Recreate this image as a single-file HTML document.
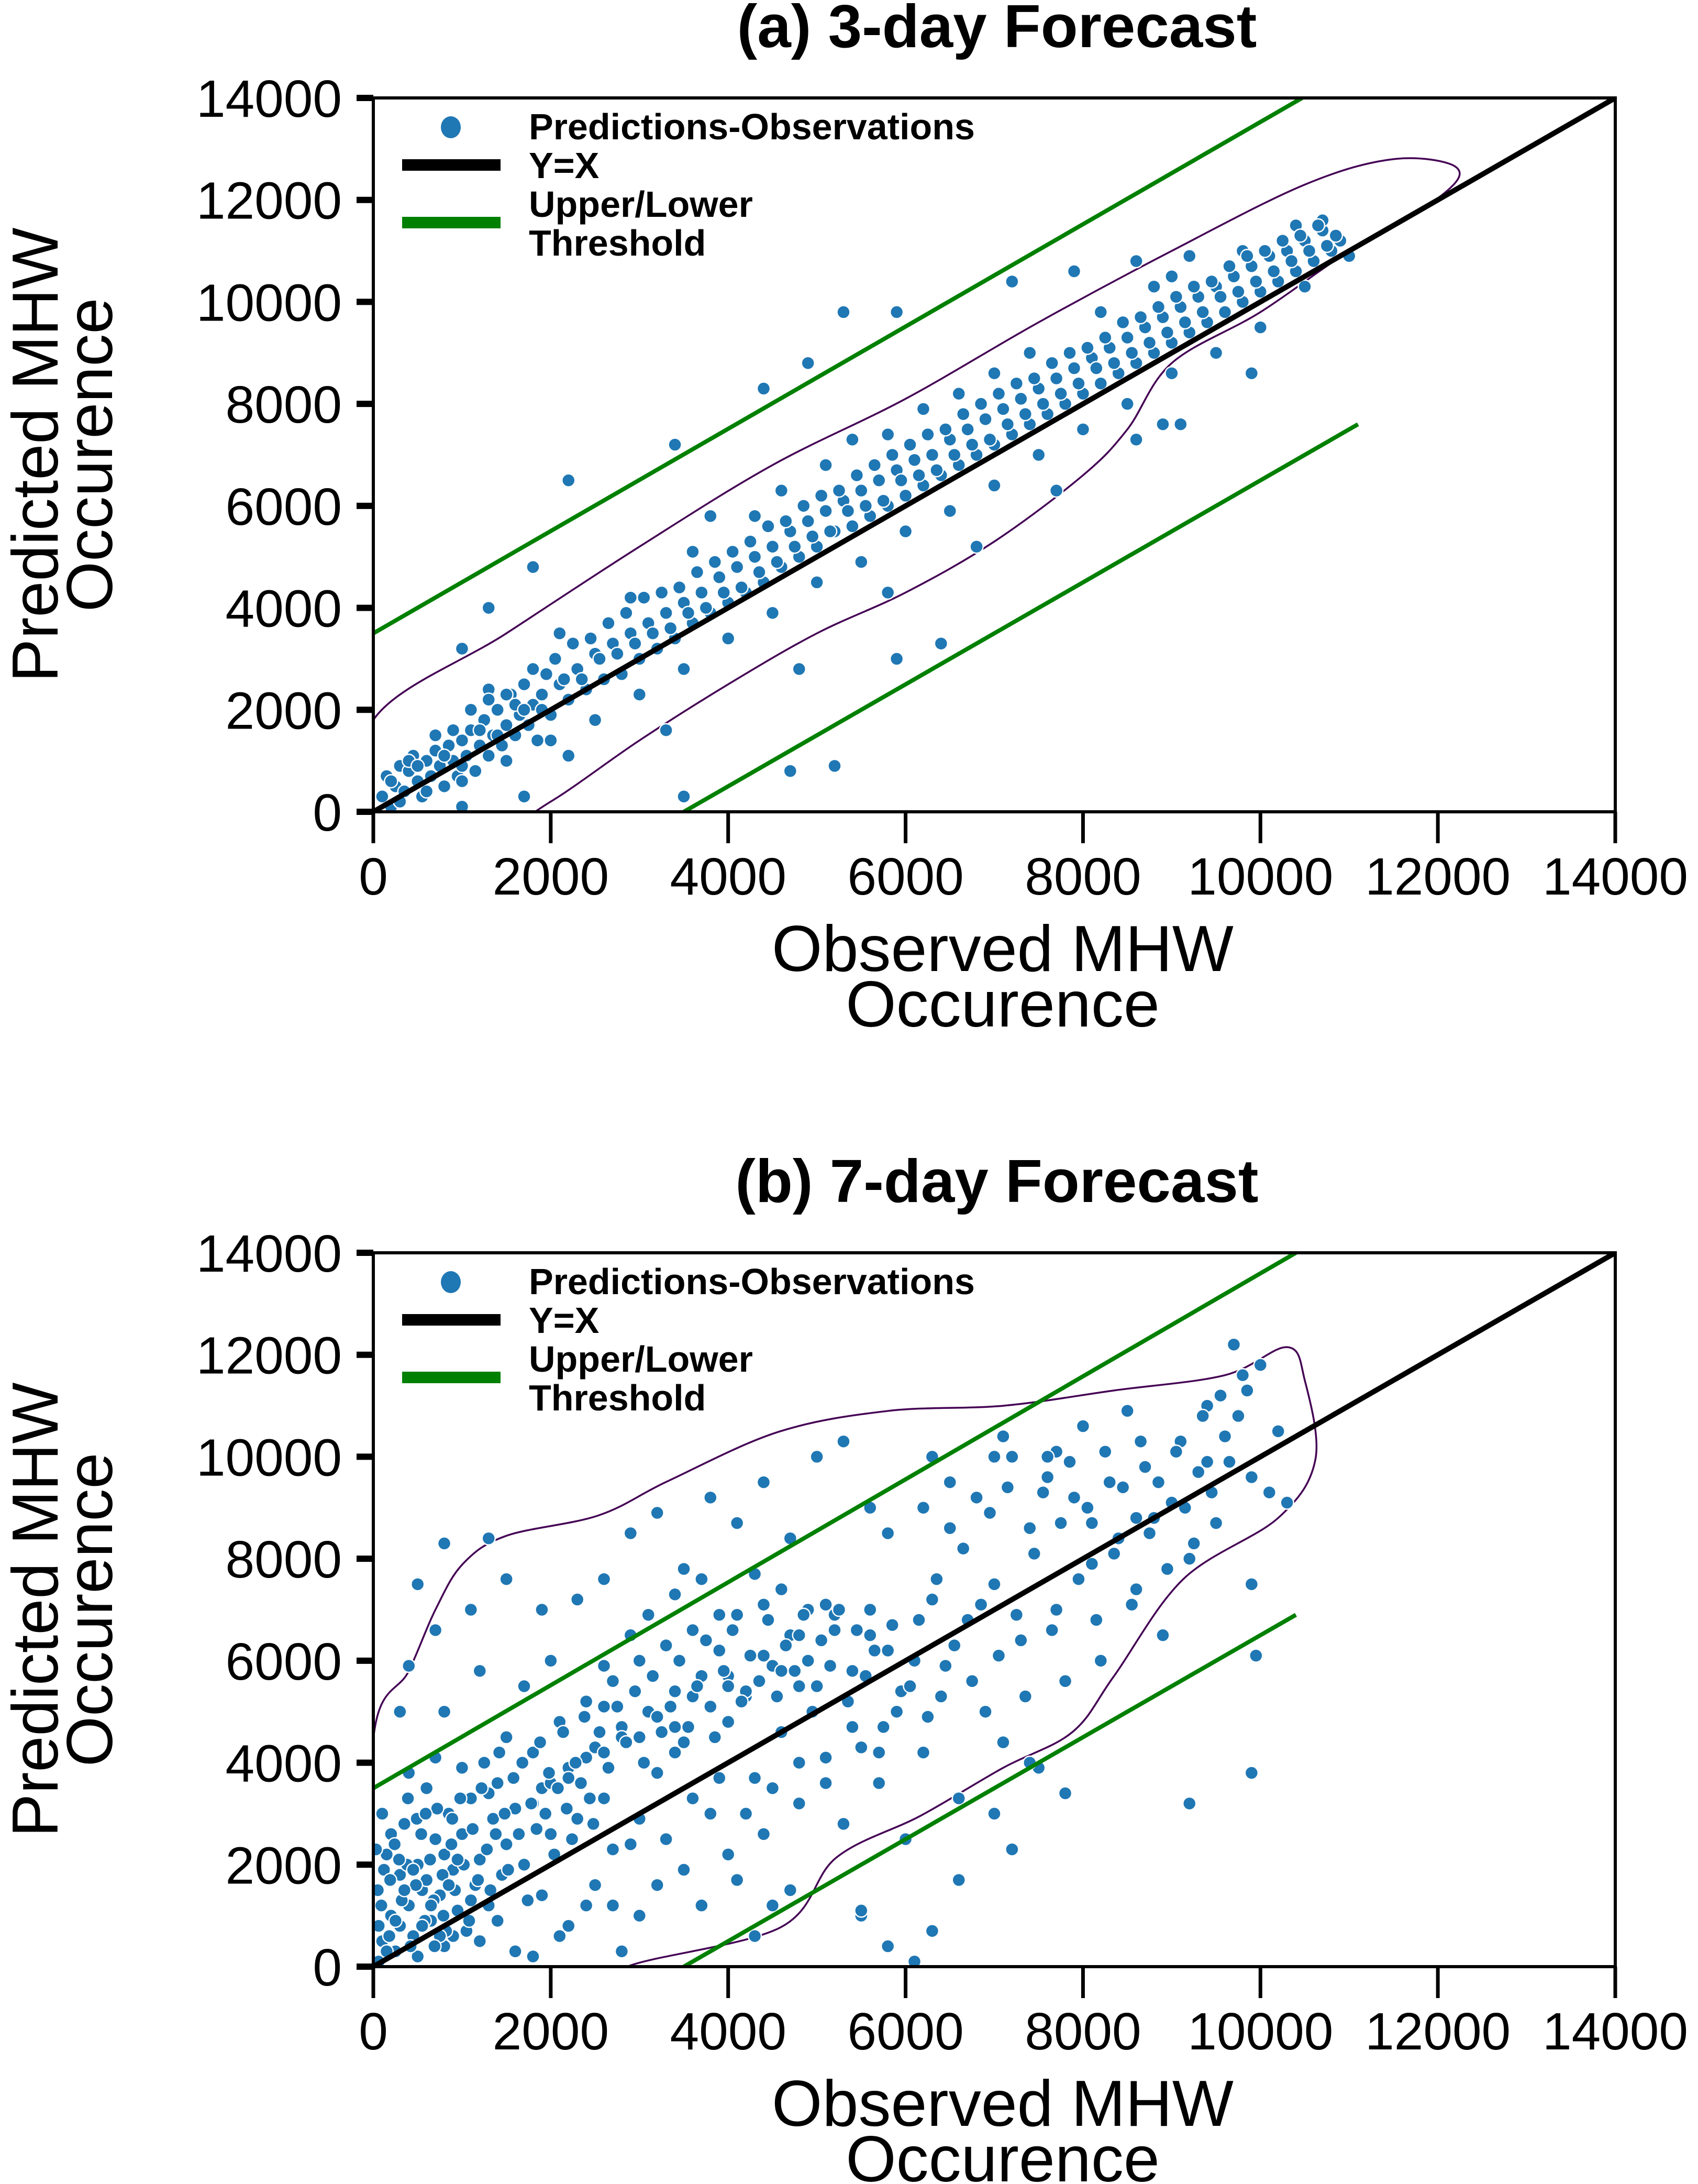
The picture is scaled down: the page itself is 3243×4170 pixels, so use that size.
<!DOCTYPE html>
<html><head><meta charset="utf-8">
<style>
html,body{margin:0;padding:0;background:#fff;}
svg{display:block;font-family:"Liberation Sans",Arial,sans-serif;}
</style></head>
<body>
<svg id="chart" width="3243" height="4170" viewBox="0 0 3243 4170" xmlns="http://www.w3.org/2000/svg"></svg>
<script>
const xTicks = [0,2000,4000,6000,8000,10000,12000,14000];
const yTicks = [0,2000,4000,6000,8000,10000,12000,14000];

const obsA = [100,150,200,250,300,350,400,450,500,550,600,650,700,750,800,850,900,950,1000,1050,1100,1150,1200,1250,1300,1350,1400,1450,1500,1550,1600,1650,1700,1750,1800,1850,1900,1950,2000,2100,2200,2300,2400,2500,2600,2700,2800,2900,3000,3100,3200,3300,3400,3500,3600,3700,3800,3900,4000,4100,4200,4300,4400,4500,4600,4700,4800,4900,5000,5100,5200,5300,5400,5500,5600,5700,5800,5900,6000,6100,6200,6300,6400,6500,6600,6700,6800,6900,7000,7100,7200,7300,7400,7500,7600,7700,7800,7900,8000,8100,8200,8300,8400,8500,8600,8700,8800,8900,9000,9100,9200,9300,9400,9500,9600,9700,9800,9900,10000,10100,10200,10300,10400,10500,10600,10700,10800,10900,11000,
1000,1500,2000,2500,3000,3500,4000,4500,5000,5500,6000,6500,7000,7500,8000,8500,9000,9500,10000,10500,2200,3300,4800,5800,6800,7700,8900,
1300,2100,2900,3600,4300,5100,5800,6600,7400,8200,9000,9800,10400,3800,4600,5400,6200,7000,8800,10700,
2200,3400,4400,5300,5900,4900,7200,1800,1000,1300,3500,4700,5200,5900,6400,7900,8600,9200,9100,8600,9900,1000,1700];
const predA = [300,700,100,500,900,400,800,1100,600,300,1000,700,1200,900,500,1300,1000,700,1400,1100,1600,800,1300,1800,1100,1500,2000,1300,1700,2300,1500,1900,2500,1700,2100,1400,2300,2700,1900,2500,2200,2800,2400,3100,2600,3300,2700,3500,3000,3700,3200,3900,3400,4100,3700,4300,3900,4600,4100,4800,4300,5000,4500,5200,4800,5500,5000,5700,5200,5900,5500,6100,5600,6300,5800,6500,6000,6700,6200,6900,6400,7000,6600,7300,6800,7500,7000,7700,7200,7900,7400,8100,7600,8300,7800,8500,8000,8700,8200,8900,8400,9100,8600,9300,8800,9500,9000,9700,9200,9900,9400,10100,9600,10300,9800,10500,10000,10700,10200,10900,10400,11000,10600,11200,10800,11400,11000,11200,10900,
600,1000,1400,1800,2300,2800,3400,3900,4500,4900,5500,5900,6400,7000,7500,8000,8600,9000,9500,10300,1100,1600,2800,4300,5200,6300,7600,
2400,3500,4200,5100,5800,6800,7400,8200,9000,9800,10500,11000,11500,5800,6300,7300,7900,8600,10300,11600,
6500,7200,8300,9800,9800,8800,10400,4800,3200,4000,300,800,900,3000,3300,10600,10800,10900,7600,7300,8600,100,300];
const obsA2 = [200,300,400,500,600,700,800,900,1000,1100,1200,1300,1400,1500,1600,1700,1800,1900,2050,2150,2250,2350,2450,2550,2650,2750,2850,2950,3050,3150,3250,3350,3450,3550,3650,3750,3850,3950,4050,4150,4250,4350,4450,4550,4650,4750,4850,4950,5050,5150,5250,5350,5450,5550,5650,5750,5850,5950,6050,6150,6250,6350,6450,6550,6650,6750,6850,6950,7050,7150,7250,7350,7450,7550,7650,7750,7850,7950,8050,8150,8250,8350,8450,8550,8650,8750,8850,8950,9050,9150,9250,9350,9450,9550,9650,9750,9850,9950,10050,10150,10250,10350,10450,10550,10650,10750,10850];
const predA2 = [600,200,1000,900,400,1500,1100,1600,900,2000,1600,2200,1500,2300,2100,2000,2800,2000,3000,2600,3300,2600,3400,3000,3700,3100,3900,3300,4200,3500,4300,3600,4400,3900,4700,4000,4900,4300,5100,4400,5300,4700,5600,4900,5700,5200,6000,5400,6200,5500,6300,5900,6600,6000,6800,6100,7000,6500,7200,6600,7400,6700,7500,7000,7800,7200,8000,7300,8200,7600,8400,7800,8500,8000,8800,8200,9000,8400,9100,8700,9300,8800,9600,9000,9700,9200,9900,9400,10100,9600,10300,9800,10400,10100,10700,10200,10900,10400,11000,10600,11200,10800,11300,11000,11500,11100,11300];

const obsB = [50,100,150,200,250,300,350,400,450,500,550,600,650,700,750,800,850,900,950,1000,1050,1100,1150,1200,1250,1300,1350,1400,1450,1500,100,200,300,400,500,600,700,800,900,1000,1100,1200,1300,1400,1500,
1600,1700,1800,1900,2000,2100,2200,2300,2400,2500,2600,2700,2800,2900,3000,3100,3200,3300,3400,3500,3600,3700,3800,3900,4000,4100,4200,4300,4400,4500,4600,4700,4800,4900,5000,5100,5200,5300,5400,5500,5600,5700,5800,5900,6000,
1700,2000,2300,2600,2900,3200,3500,3800,4100,4400,4700,5000,5300,5600,2500,3000,3500,4000,4500,2200,2800,4300,4700,5500,1900,1600,2700,
1100,800,1300,500,400,700,1900,1200,1500,800,300,
6100,6200,6300,6400,6500,6600,6700,6800,6900,7000,7100,7200,7300,7400,7500,7600,7700,7800,7900,8000,8100,8200,8300,8400,8500,8600,8700,8800,8900,9000,9100,9200,9300,9400,9500,9600,9700,9800,9900,10000,10100,10200,10300,9900,9950,9900,9200,7800,7400,7000,7200,6600,6300,6100,5800,5500,6200,7000,7700,8600,9400,5800,6300,
2000,2400,2800,3200,3600,4000,4400,4800,5200,1800,2200,2600,3000,3400,3800,4200,4600];
const predB = [1500,500,2200,1000,300,1800,2800,1200,600,2000,1500,3500,900,2500,1400,400,3000,1900,1100,2600,700,3300,1600,2100,4000,1200,2900,3600,1800,2400,3000,2600,800,3800,200,1700,4100,2200,600,3900,1300,500,3400,900,4500,
3100,2000,4200,3500,2600,4800,3900,2900,5200,4300,3300,5600,4700,2400,6000,5000,3800,6300,5400,4400,6600,5700,3000,6200,4800,6900,5300,3700,7100,5900,4600,6500,3200,7000,5500,4100,6600,2800,5800,4300,7000,3600,6200,5000,2500,
5500,6000,7200,7600,8500,8900,7800,9200,8700,9500,8400,10000,10300,9000,1600,1000,1900,2200,1200,800,300,600,1500,1000,1400,300,1200,
7000,8300,8400,7500,5900,6600,7000,5800,7600,5000,5000,
6000,4200,7200,5300,8600,3300,6800,9200,5000,7500,4400,10000,6400,8600,3900,9600,7000,5600,9200,10600,7900,6000,9500,8400,10900,7400,9800,8800,6500,9100,10300,8000,9700,11000,8700,10400,12200,11600,9600,11800,9300,10500,9100,7500,6100,3800,3200,3400,4000,3000,2300,1700,700,100,400,1100,9000,10000,10100,8800,9900,8500,10000,
3600,4100,4500,4900,5300,5700,6100,6500,6900,3200,3700,4200,4500,4700,5100,5400,5800];
const obsB2 = [60,120,180,240,320,380,420,480,540,580,640,680,720,780,820,880,920,980,1020,1080,1120,1180,1220,1280,1320,1380,1420,1480,1520,1580,1640,1680,1740,1780,1840,1880,1940,1980,2040,2080,2140,2180,2240,2280,2340,2380,2440,2480,60,150,250,350,450,550,650,750,850,950,30,90,190,290,390,490,590,690,790,890,
2550,2650,2750,2850,2950,3050,3150,3250,3350,3450,3550,3650,3750,3850,3950,4050,4150,4250,4350,4450,4550,4650,4750,4850,4950,5050,5150,5250,5350,5450,5550,5650,5750,5850,5950,2600,2900,3100,3400,3700,3900,4300,4600,4900,5100,2700,3000,3300,3600,3900,4200,4500,4800,5100,5400,5700,3200,3700,4100,4400,2400,2100,1800,2600,3400,4000,4800,5600,
6050,6150,6250,6350,6450,6550,6650,6750,6850,6950,7050,7150,7250,7350,7450,7550,7650,7750,7850,7950,8050,8150,8250,8350,8450,8550,8650,8750,8850,8950,9050,9150,9250,9350,9450,9550,9650,9750,9850,6500,7100,7600,8100];
const predB2 = [800,1900,600,2400,1300,2000,400,1600,2600,900,2100,1300,3100,1800,700,2400,1500,3300,2000,900,2700,1700,3500,2300,1500,2600,4200,3000,1900,3700,2600,4000,1300,3200,2700,4400,3000,3800,2200,3500,4600,3100,2500,4000,3600,4900,3300,2800,100,300,900,1500,1900,800,1200,600,1600,2100,2300,1200,1700,2100,3300,2900,3000,400,1000,2900,
4600,3900,5100,4400,5400,4000,5700,4600,5100,6000,4700,5500,6400,4500,5800,6600,5200,6100,5600,6800,5300,6300,5800,6900,5000,6400,5900,7000,5200,6600,5700,6200,4700,6700,5400,5900,6500,6900,7300,7600,6900,7700,7400,6000,7100,2300,2900,2500,3300,3700,3000,3500,4000,3600,4700,4200,1600,1200,1700,2600,1200,600,200,5100,4200,5500,5500,6500,
5500,6800,4900,7600,5900,6300,8200,5600,7100,8900,6100,9400,6900,5300,8100,9300,6600,8700,9900,7600,9000,6800,10100,8100,9400,7100,10300,8500,9500,7800,10100,9000,8300,10800,9300,11200,9900,10800,11300,9500,10400,10000,8700];

// contour outlines (data units)
const contourAx = [0,1500,3000,4500,6000,7500,9000,10500,11500,12200,12050,11000,10000,9000,8500,8000,7000,6000,5000,4000,3000,2000,1300,0];
const contourAy = [1800,3500,5200,6800,8100,9600,11000,12300,12800,12650,12100,11000,9800,8800,7500,6600,5300,4300,3500,2500,1400,200,-400,-400];
const contourBx = [0,400,700,1010,1500,2540,3330,4570,5810,7100,8350,9600,10300,10500,10620,10200,9130,8350,7880,7100,6170,5220,4590,2860,2600,0];
const contourBy = [4470,5800,7000,7900,8450,8850,9530,10490,10900,11000,11300,11600,12150,11500,9950,8800,7600,5700,4600,3900,2960,2140,770,0,-600,-600];

const threshUpperA = [[0,3500],[10470,14000]];
const threshLowerA = [[3500,0],[11100,7600]];
const threshUpperB = [[0,3500],[10400,14000]];
const threshLowerB = [[3500,0],[10400,6900]];
const identity = [[0,0],[14000,14000]];

const NS = "http://www.w3.org/2000/svg";
const svg = document.getElementById('chart');
function mk(tag, attrs, parent){
  const e = document.createElementNS(NS, tag);
  for (const k in attrs) e.setAttribute(k, attrs[k]);
  (parent||svg).appendChild(e);
  return e;
}
function smoothClosed(pts){
  const n = pts.length; let d = 'M'+pts[0][0]+','+pts[0][1];
  for (let i=0;i<n;i++){
    const p0=pts[(i-1+n)%n], p1=pts[i], p2=pts[(i+1)%n], p3=pts[(i+2)%n];
    const c1=[p1[0]+(p2[0]-p0[0])/6, p1[1]+(p2[1]-p0[1])/6];
    const c2=[p2[0]-(p3[0]-p1[0])/6, p2[1]-(p3[1]-p1[1])/6];
    d += 'C'+c1[0]+','+c1[1]+' '+c2[0]+','+c2[1]+' '+p2[0]+','+p2[1];
  }
  return d+'Z';
}

function panel(cfg){
  const L=713, R=3085, T=cfg.top, B=cfg.top+1363;
  const sx = v => L + v/14000*(R-L);
  const sy = v => B - v/14000*(B-T);
  const g = mk('g',{});
  
  
  const clipId = cfg.name+'-clip';
  const cp = mk('clipPath',{id:clipId},g);
  mk('rect',{x:L,y:T,width:R-L,height:B-T},cp);

  const title = mk('text',{x:1904,y:T-97,'font-size':116,'font-weight':'bold','text-anchor':'middle'},g);
  title.textContent = cfg.title;
  
  

  const plot = mk('g',{'clip-path':'url(#'+clipId+')'},g);
  const pts = cfg.cx.map((v,i)=>[sx(v),sy(cfg.cy[i])]);
  const ct = mk('path',{d:smoothClosed(pts),fill:'none',stroke:'#440154','stroke-width':3.5},plot);
  
  
  const pg = mk('g',{},plot);
  
  
  const ox = cfg.ox.concat(cfg.ox2), py = cfg.py.concat(cfg.py2);
  ox.forEach((v,i)=>{
    const c = mk('circle',{cx:sx(v),cy:sy(py[i]),r:12.5,fill:'#1f77b4',stroke:'#fff','stroke-width':2.5},pg);
    
    
  });
  [[cfg.up,'#008000',8,'upper-threshold-line'],[cfg.lo,'#008000',8,'lower-threshold-line'],[identity,'#000',10,'y-equals-x-line']].forEach(([ln,col,w,nm])=>{
    const l = mk('line',{x1:sx(ln[0][0]),y1:sy(ln[0][1]),x2:sx(ln[1][0]),y2:sy(ln[1][1]),stroke:col,'stroke-width':w},plot);
    
    
  });
  const fr = mk('rect',{x:L,y:T,width:R-L,height:B-T,fill:'none',stroke:'#000','stroke-width':6},g);
  
  
  xTicks.forEach(v=>{
    const t = mk('line',{x1:sx(v),y1:B,x2:sx(v),y2:B+60,stroke:'#000','stroke-width':7},g);
    
    
    const lb = mk('text',{x:sx(v),y:B+158,'font-size':100,'text-anchor':'middle'},g);
    lb.textContent = v;
    
    
  });
  yTicks.forEach(v=>{
    const t = mk('line',{x1:L-32,y1:sy(v),x2:L,y2:sy(v),stroke:'#000','stroke-width':12},g);
    
    
    const lb = mk('text',{x:L-60,y:sy(v)+36,'font-size':100,'text-anchor':'end'},g);
    lb.textContent = v;
    
    
  });
  const xt = mk('text',{x:1915,y:B+304,'font-size':124,'text-anchor':'middle'},g);
  
  
  const t1 = mk('tspan',{x:1915},xt); t1.textContent='Observed MHW';
  const t2 = mk('tspan',{x:1915,dy:106},xt); t2.textContent='Occurence';
  const yc = (T+B)/2;
  const yt = mk('text',{transform:'translate(0,'+yc+') rotate(-90)','font-size':124,'text-anchor':'middle'},g);
  
  
  const u1 = mk('tspan',{x:0,y:110},yt); u1.textContent='Predicted MHW';
  const u2 = mk('tspan',{x:0,y:214},yt); u2.textContent='Occurence';
  const lg = mk('g',{'font-size':70,'font-weight':'bold'},g);
  
  
  const oy = T - 187;
  mk('ellipse',{cx:861,cy:243+oy,rx:19,ry:21,fill:'#1f77b4'},lg);
  const e1 = mk('text',{x:1010,y:266+oy},lg); e1.textContent='Predictions-Observations';
  mk('rect',{x:768,y:304+oy,width:188,height:22,fill:'#000'},lg);
  const e2 = mk('text',{x:1010,y:340+oy},lg); e2.textContent='Y=X';
  mk('rect',{x:768,y:414+oy,width:188,height:22,fill:'#008000'},lg);
  const e3 = mk('text',{x:1010,y:414+oy},lg); e3.textContent='Upper/Lower';
  const e4 = mk('text',{x:1010,y:488+oy},lg); e4.textContent='Threshold';
}

panel({name:'panel-a-3day',title:'(a) 3-day Forecast',top:187,ox:obsA,py:predA,ox2:obsA2,py2:predA2,cx:contourAx,cy:contourAy,up:threshUpperA,lo:threshLowerA});
panel({name:'panel-b-7day',title:'(b) 7-day Forecast',top:2392,ox:obsB,py:predB,ox2:obsB2,py2:predB2,cx:contourBx,cy:contourBy,up:threshUpperB,lo:threshLowerB});
</script>
</body></html>
